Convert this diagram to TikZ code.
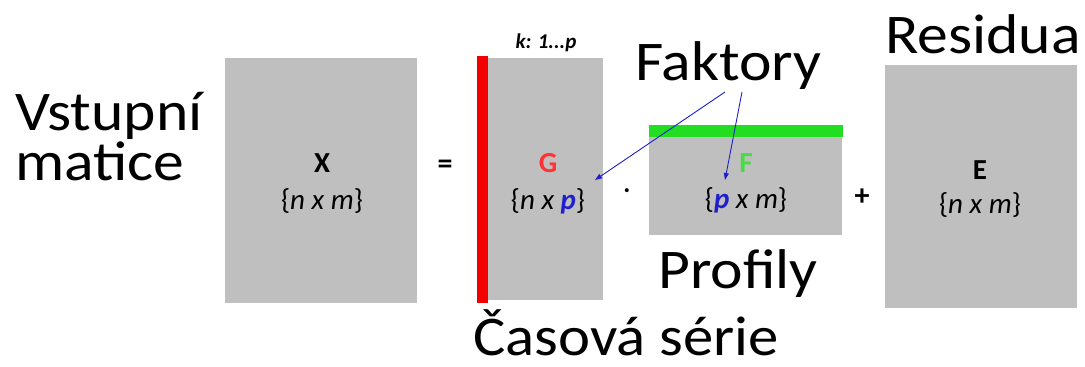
\documentclass[tikz,border=0pt]{standalone}
\usepackage{fontspec}
\setmainfont{Carlito}
\usetikzlibrary{arrows.meta}
\definecolor{boxgray}{HTML}{BFBFBF}
\definecolor{barred}{HTML}{F20000}
\definecolor{bargreen}{HTML}{22DD22}
\definecolor{lblred}{HTML}{FF3333}
\definecolor{lblgreen}{HTML}{44DD44}
\definecolor{pblue}{HTML}{1F1FCC}
\tikzset{
  mat/.style={fill=boxgray, draw=none},
  bigtxt/.style={anchor=base west, inner sep=0pt, font=\fontsize{56}{50}\selectfont, xscale=1.1},
  lbl/.style={inner sep=0pt, font=\fontsize{29}{29}\selectfont, align=center},
  op/.style={inner sep=0pt, font=\bfseries\fontsize{30}{30}\selectfont},
  farrow/.style={draw=pblue, line width=0.9pt, -{Triangle[length=7pt,width=5pt]}}
}
\begin{document}
\begin{tikzpicture}[x=1pt,y=-1pt]
\useasboundingbox (0,0) rectangle (1085,367);
% matrices
\fill[mat] (225,58) rectangle (417,303);
\fill[mat] (488,58) rectangle (603,300);
\fill[barred] (477,56) rectangle (488,303);
\fill[mat] (649,137) rectangle (842,235);
\fill[bargreen] (649,125) rectangle (843,137);
\fill[mat] (885,65) rectangle (1077,308);
% labels inside matrices
\node[lbl] (xl) at (322,163) {\bfseries X};
\node[lbl] (xd) at (322,201) {\{\textit{n x m}\}};
\node[lbl, text=lblred] (gl) at (548,163) {\bfseries G};
\node[lbl] (gd) at (548,201) {\{\textit{n x \textcolor{pblue}{\bfseries p}}\}};
\node[lbl, text=lblgreen] (fl) at (746,163) {\bfseries F};
\node[lbl] (fd) at (746,200) {\{\textit{\textcolor{pblue}{\bfseries p} x m}\}};
\node[lbl] (el) at (980,170) {\bfseries E};
\node[lbl] (ed) at (980,205) {\{\textit{n x m}\}};
\node[inner sep=0pt, font=\bfseries\itshape\fontsize{21}{21}\selectfont] (k) at (546,43) {k: 1...p};
% operators
\node[op] (eq) at (445,167) {=};
\node[inner sep=0pt, font=\fontsize{28}{28}\selectfont] (dot) at (627,194) {·};
\node[op] (plus) at (862,197) {+};
% big texts
\node[bigtxt, align=left] (v1) at (15,180) {Vstupní\\matice};
\node[bigtxt] (fak) at (635,80) {Faktory};
\node[bigtxt] (res) at (885,53) {Residua};
\node[bigtxt] (pro) at (658,288) {Profily};
\node[bigtxt, xscale=0.985] (cas) at (473,355) {Časová série};
% arrows
\coordinate (a1s) at (725,92);
\coordinate (a2s) at (742,92);
\coordinate (a1e) at (595,180);
\coordinate (a2e) at (725,180);
\draw[farrow] (a1s) -- (a1e);
\draw[farrow] (a2s) -- (a2e);
\end{tikzpicture}
\end{document}
